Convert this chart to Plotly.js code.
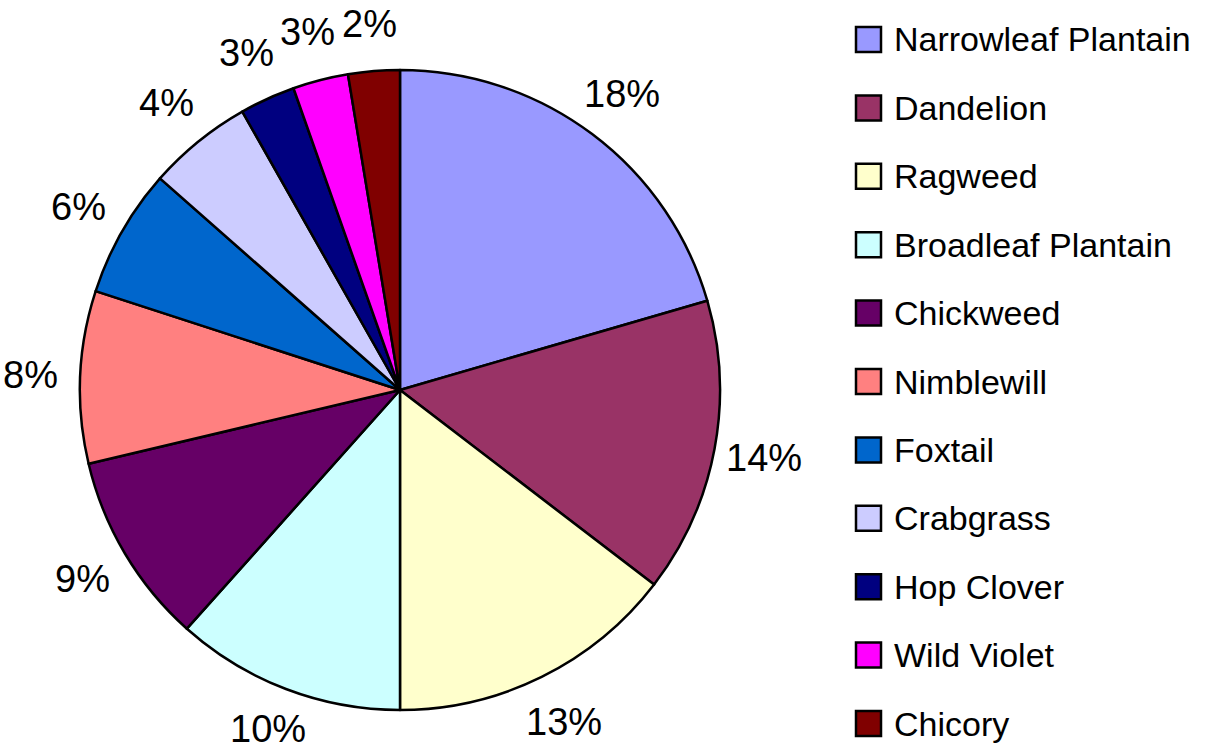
<!DOCTYPE html>
<html>
<head>
<meta charset="utf-8">
<script src="https://cdn.plot.ly/plotly-3.0.1.min.js"></script>
<style>
  html, body { margin: 0; padding: 0; background: #fff; }
  #chart { width: 1225px; height: 753px; }
</style>
</head>
<body>
<div id="chart"></div>
<script>
// ---- data ----
const categories = ["Narrowleaf Plantain", "Dandelion", "Ragweed", "Broadleaf Plantain", "Chickweed",
  "Nimblewill", "Foxtail", "Crabgrass", "Hop Clover", "Wild Violet", "Chicory"];
const shares = [20.5, 14.9, 14.6, 11.6, 9.7, 8.7, 6.5, 5.3, 2.8, 2.8, 2.6];
const pctLabels = ["18%", "14%", "13%", "10%", "9%", "8%", "6%", "4%", "3%", "3%", "2%"];
const colors = ["#9999FF", "#993366", "#FFFFCC", "#CCFFFF", "#660066",
  "#FF8080", "#0066CC", "#CCCCFF", "#000080", "#FF00FF", "#800000"];

// ---- layout geometry ----
const W = 1225, H = 753;
const cx = 400, cy = 390, rad = 320;
const labelR = 370;
const font = "Arial, 'Liberation Sans', sans-serif";
const pctSize = 38;

const trace = {
  type: "pie",
  labels: categories,
  values: shares,
  sort: false,
  direction: "clockwise",
  rotation: 0,
  textinfo: "none",
  hoverinfo: "label+percent",
  showlegend: false,
  marker: { colors: colors, line: { color: "#000000", width: 2.5 } },
  domain: { x: [(cx - rad) / W, (cx + rad) / W], y: [1 - (cy + rad) / H, 1 - (cy - rad) / H] }
};

const annotations = [];
const shapes = [];
const total = shares.reduce((a, b) => a + b, 0);
const half = pctSize * 0.62;
let cum = 0;
shares.forEach((v, i) => {
  const mid = (cum + v / 2) / total * 2 * Math.PI;
  cum += v;
  const px = cx + labelR * Math.sin(mid);
  let py = cy - labelR * Math.cos(mid);
  py = Math.max(half, Math.min(H - half, py));
  annotations.push({
    xref: "paper", yref: "paper", x: px / W, y: 1 - py / H,
    xanchor: "center", yanchor: "middle", showarrow: false,
    text: pctLabels[i], font: { family: font, size: pctSize, color: "#000" }
  });
});

// legend drawn from categories / colors
const legTop = 39.5, legStep = 68.4, boxL = 856, boxS = 25, textL = 892;
categories.forEach((c, i) => {
  const yc = legTop + legStep * i;
  shapes.push({
    type: "rect", xref: "paper", yref: "paper",
    x0: boxL / W, x1: (boxL + boxS) / W,
    y0: 1 - (yc + boxS / 2) / H, y1: 1 - (yc - boxS / 2) / H,
    fillcolor: colors[i], line: { color: "#000", width: 2.5 }
  });
  annotations.push({
    xref: "paper", yref: "paper", x: textL / W, y: 1 - yc / H,
    xanchor: "left", yanchor: "middle", showarrow: false,
    text: c, font: { family: font, size: 34, color: "#000" }
  });
});

const layout = {
  width: W, height: H, autosize: false,
  margin: { l: 0, r: 0, t: 0, b: 0, pad: 0 },
  paper_bgcolor: "#ffffff", plot_bgcolor: "#ffffff",
  showlegend: false,
  annotations: annotations,
  shapes: shapes
};

Plotly.newPlot("chart", [trace], layout, { displayModeBar: false, staticPlot: true });
</script>
</body>
</html>
